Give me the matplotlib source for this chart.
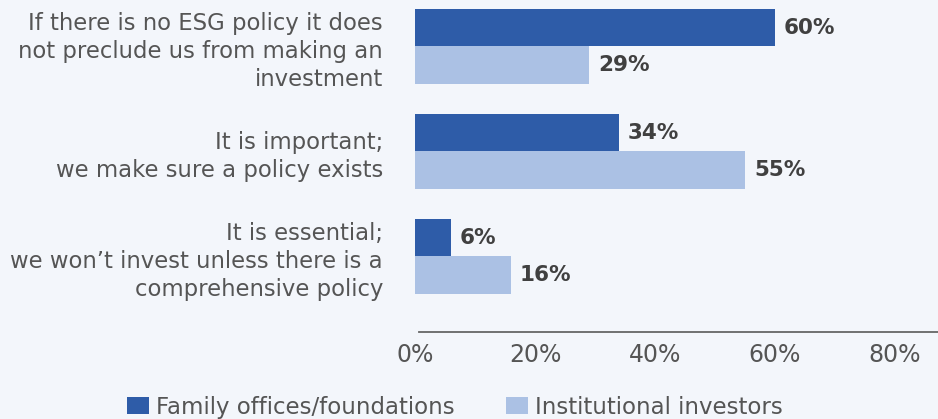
import matplotlib
matplotlib.use("Agg")
import matplotlib.pyplot as plt
from matplotlib.patches import Patch
import numpy as np

categories = [
    "If there is no ESG policy it does\nnot preclude us from making an\ninvestment",
    "It is important;\nwe make sure a policy exists",
    "It is essential;\nwe won\u2019t invest unless there is a\ncomprehensive policy",
]
series_names = ["Family offices/foundations", "Institutional investors"]
family_offices = [60, 34, 6]
institutional = [29, 55, 16]
tick_values = [0, 20, 40, 60, 80]
tick_labels = ["0%", "20%", "40%", "60%", "80%"]

BG = "#f3f6fb"
DARK = "#2e5ca8"
LIGHT = "#abc1e4"
TEXT = "#555555"
VALUE_TEXT = "#404040"

plt.rcParams["font.family"] = ["DejaVu Sans"]

fig = plt.figure(figsize=(9.38, 4.19), dpi=100, facecolor=BG)
ax = fig.add_axes([415 / 938, (419 - 332) / 419, 523 / 938, 332 / 419])
ax.set_facecolor(BG)

y = np.arange(len(categories))
h = 0.355
ax.barh(y - h / 2, family_offices, height=h, color=DARK, edgecolor="none")
ax.barh(y + h / 2, institutional, height=h, color=LIGHT, edgecolor="none")

for yi, v in zip(y, family_offices):
    ax.text(v + 1.5, yi - h / 2, f"{v}%", va="center", ha="left",
            fontsize=15.5, fontweight="bold", color=VALUE_TEXT)
for yi, v in zip(y, institutional):
    ax.text(v + 1.5, yi + h / 2, f"{v}%", va="center", ha="left",
            fontsize=15.5, fontweight="bold", color=VALUE_TEXT)

ax.set_xlim(0, 523 / 6.0)
ax.set_ylim(2.72, -0.44)

ax.set_yticks(y)
ax.set_yticklabels(categories, fontsize=16.4, color=TEXT, linespacing=1.28)
ax.tick_params(axis="y", length=0, pad=23)

ax.set_xticks(tick_values)
ax.set_xticklabels(tick_labels, fontsize=17, color=TEXT)
ax.tick_params(axis="x", length=0, pad=8)

for side in ["top", "right", "left"]:
    ax.spines[side].set_visible(False)
ax.spines["bottom"].set_color("#666666")
ax.spines["bottom"].set_linewidth(1.3)
ax.spines["bottom"].set_bounds(0.6, ax.get_xlim()[1])

handles = [Patch(facecolor=DARK, edgecolor="none"),
           Patch(facecolor=LIGHT, edgecolor="none")]
fig.legend(handles, series_names, loc="lower left",
           bbox_to_anchor=(118 / 938, -0.021), ncol=2, frameon=False,
           fontsize=16.5, labelcolor=TEXT, handlelength=0.95, handleheight=0.8,
           handletextpad=0.3, columnspacing=2.25, borderaxespad=0.0)

fig.savefig("out.png", dpi=100, facecolor=BG)
